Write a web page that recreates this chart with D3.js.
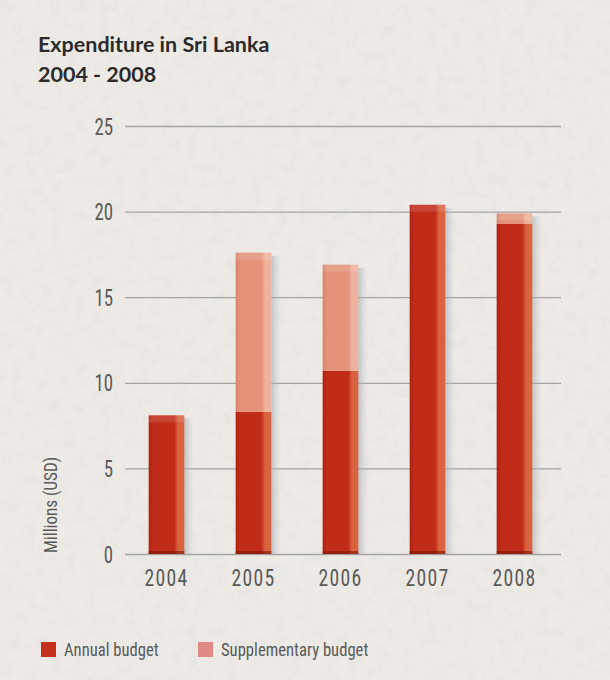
<!DOCTYPE html>
<html>
<head>
<meta charset="utf-8">
<script src="https://cdn.jsdelivr.net/npm/d3@7"></script>
<style>
  html, body { margin: 0; padding: 0; background: #ece9e4; }
  #chart { width: 610px; height: 680px; }
  .axis-text { font-family: "Liberation Sans Narrow", "Roboto Condensed", "DejaVu Sans Condensed", sans-serif; fill: #5a5a5a; }
</style>
</head>
<body>
<div id="chart"></div>
<script>
// ---------------- data ----------------
const years = ["2004", "2005", "2006", "2007", "2008"];
const annualBudget = [8.1, 8.3, 10.7, 20.4, 19.3];
const supplementaryBudget = [0, 9.3, 6.2, 0, 0.6];
const yTicks = [0, 5, 10, 15, 20, 25];
const seriesNames = ["Annual budget", "Supplementary budget"];

// ---------------- layout ----------------
const W = 610, H = 680;
const plot = { left: 125, right: 561, top: 126, bottom: 554 };
const squeeze = 0.82; // narrow the digits a little, like the condensed face in the original

const svg = d3.select("#chart").append("svg")
  .attr("width", W).attr("height", H);

const defs = svg.append("defs");

// paper texture
const paper = defs.append("filter").attr("id", "paper")
  .attr("x", 0).attr("y", 0).attr("width", "100%").attr("height", "100%");
paper.append("feTurbulence").attr("type", "fractalNoise")
  .attr("baseFrequency", 0.08).attr("numOctaves", 3).attr("seed", 4);
paper.append("feColorMatrix").attr("type", "matrix")
  .attr("values", "0 0 0 0 0.55  0 0 0 0 0.54  0 0 0 0 0.52  0 0 0 -0.9 0.55");

svg.append("rect").attr("width", W).attr("height", H).attr("fill", "#eeebe7");
svg.append("rect").attr("width", W).attr("height", H)
  .attr("filter", "url(#paper)").attr("opacity", 0.35);

// bar gradients (left darker, light strip on the right)
function barGradient(id, dark, mid, light) {
  const g = defs.append("linearGradient").attr("id", id)
    .attr("x1", "0%").attr("x2", "100%").attr("y1", "0%").attr("y2", "0%");
  g.append("stop").attr("offset", "0%").attr("stop-color", dark);
  g.append("stop").attr("offset", "12%").attr("stop-color", mid);
  g.append("stop").attr("offset", "72%").attr("stop-color", mid);
  g.append("stop").attr("offset", "82%").attr("stop-color", light);
  g.append("stop").attr("offset", "100%").attr("stop-color", light);
}
barGradient("gradAnnual", "#ad2210", "#c12c18", "#d9623f");
barGradient("gradSupp", "#d98068", "#e4937a", "#eeb39c");

const shadow = defs.append("linearGradient").attr("id", "gradShadow")
  .attr("x1", "0%").attr("x2", "100%");
shadow.append("stop").attr("offset", "0%").attr("stop-color", "#9aa3ad").attr("stop-opacity", 0.55);
shadow.append("stop").attr("offset", "100%").attr("stop-color", "#c8ccd0").attr("stop-opacity", 0);

// ---------------- scales ----------------
const x = d3.scaleBand().domain(years).range([123, 558]).paddingInner(0.59).paddingOuter(0.295);
const y = d3.scaleLinear().domain([0, 25]).range([plot.bottom, plot.top]);

// ---------------- title ----------------
const title = svg.append("text")
  .attr("font-family", "Lato, 'Open Sans', sans-serif")
  .attr("font-weight", 700).attr("font-size", 21.5).attr("fill", "#2b2b2b");
title.append("tspan").attr("x", 38).attr("y", 52).text("Expenditure in Sri Lanka");
title.append("tspan").attr("x", 38).attr("y", 82).text("2004 - 2008");

// ---------------- y axis / grid ----------------
const yAxis = svg.append("g")
  .attr("transform", `translate(${plot.left},0)`)
  .call(d3.axisLeft(y).tickValues(yTicks)
    .tickSize(-(plot.right - plot.left)).tickPadding(11));
yAxis.select(".domain").remove();
yAxis.selectAll(".tick line").attr("stroke", "#a4a4a4").attr("stroke-width", 1.3);
yAxis.selectAll(".tick text").attr("class", "axis-text").attr("font-size", 23)
  .attr("x", -12 / squeeze)
  .attr("transform", `scale(${squeeze},1)`)
  .attr("dy", "0.35em");

svg.append("text").attr("class", "axis-text")
  .attr("transform", "translate(57,505) rotate(-90) scale(0.9,1)")
  .attr("text-anchor", "middle").attr("font-size", 19)
  .text("Millions (USD)");

// ---------------- bars ----------------
const table = years.map((yr, i) => ({ year: yr, annual: annualBudget[i], supp: supplementaryBudget[i] }));
const stacked = d3.stack().keys(["annual", "supp"])(table);
const fills = { annual: "url(#gradAnnual)", supp: "url(#gradSupp)" };

// shadows to the right of each bar
svg.append("g").selectAll("rect").data(table).join("rect")
  .attr("x", d => x(d.year) + x.bandwidth())
  .attr("y", d => y(d.annual + d.supp) + 3)
  .attr("width", 10)
  .attr("height", d => y(0) - y(d.annual + d.supp) - 3)
  .attr("fill", "url(#gradShadow)");

stacked.forEach(series => {
  svg.append("g").selectAll("rect").data(series.filter(d => d[1] > d[0])).join("rect")
    .attr("x", d => x(d.data.year))
    .attr("y", d => y(d[1]))
    .attr("width", x.bandwidth())
    .attr("height", d => y(d[0]) - y(d[1]))
    .attr("fill", fills[series.key]);
});

// top caps (slightly lighter band on top of each stack)
svg.append("g").selectAll("rect").data(table).join("rect")
  .attr("x", d => x(d.year))
  .attr("y", d => y(d.annual + d.supp))
  .attr("width", x.bandwidth())
  .attr("height", 7)
  .attr("fill", "#ffffff").attr("opacity", 0.12);

// darker base
svg.append("g").selectAll("rect").data(table).join("rect")
  .attr("x", d => x(d.year))
  .attr("y", y(0) - 3)
  .attr("width", x.bandwidth())
  .attr("height", 3)
  .attr("fill", "#7d1608").attr("opacity", 0.6);

// ---------------- x axis labels ----------------
svg.append("g").selectAll("text").data(years).join("text")
  .attr("class", "axis-text")
  .attr("transform", d => `translate(${x(d) + x.bandwidth() / 2},586) scale(${squeeze},1)`)
  .attr("text-anchor", "middle")
  .attr("font-size", 24).attr("letter-spacing", 1.5)
  .text(d => d);

// ---------------- legend ----------------
const legendColors = ["#c4301c", "#e08a88"];
const legendX = [41, 198];
const legend = svg.append("g").selectAll("g").data(seriesNames).join("g")
  .attr("transform", (d, i) => `translate(${legendX[i]},642)`);
legend.append("rect").attr("width", 15).attr("height", 15)
  .attr("fill", (d, i) => legendColors[i]);
legend.append("text").attr("class", "axis-text")
  .attr("transform", "translate(23,8) scale(0.9,1)")
  .attr("dy", "0.35em")
  .attr("font-size", 18.5).text(d => d);
</script>
</body>
</html>
